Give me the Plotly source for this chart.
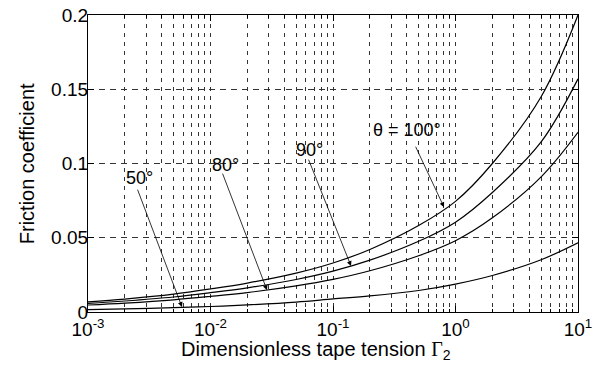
import plotly.graph_objects as go

# Dimensionless tape tension (x) sample points
gamma2 = [0.001, 0.002, 0.005, 0.01, 0.02, 0.05, 0.1, 0.2, 0.5, 1, 2, 5, 10]

# Friction coefficient for each wrap angle
mu_100 = [0.0068, 0.0087, 0.0120, 0.0155, 0.0195, 0.0262, 0.0330, 0.0421, 0.0582, 0.0745, 0.1000, 0.1450, 0.2000]
mu_90 = [0.0058, 0.0074, 0.0101, 0.0130, 0.0163, 0.0219, 0.0275, 0.0349, 0.0476, 0.0605, 0.0805, 0.1145, 0.1570]
mu_80 = [0.0047, 0.0060, 0.0082, 0.0105, 0.0131, 0.0176, 0.0220, 0.0278, 0.0379, 0.0480, 0.0634, 0.0910, 0.1210]
mu_50 = [0.0016, 0.0021, 0.0029, 0.0037, 0.0048, 0.0067, 0.0088, 0.0108, 0.0145, 0.0188, 0.0246, 0.0352, 0.0466]

series = [("θ = 100°", mu_100), ("90°", mu_90), ("80°", mu_80), ("50°", mu_50)]

x_tickvals = [0.001, 0.01, 0.1, 1, 10]
x_ticktext = ["10<sup>-3</sup>", "10<sup>-2</sup>", "10<sup>-1</sup>", "10<sup>0</sup>", "10<sup>1</sup>"]
x_minor = [m * d for d in [0.001, 0.01, 0.1, 1] for m in range(2, 10)]
y_tickvals = [0, 0.05, 0.1, 0.15, 0.2]
y_ticktext = ["0", "0.05", "0.1", "0.15", "0.2"]

x_title = "Dimensionless tape tension <span style=\"font-family:Liberation Serif\">Γ</span><sub>2</sub>"
y_title = "Friction coefficient"

# label text, label position (log10 x, y), arrow tail, arrow head
labels = [
    ("50°", (-2.58, 0.0905), (-2.60, 0.0834), (-2.233, 0.0034)),
    ("80°", (-1.88, 0.0990), (-1.906, 0.0942), (-1.539, 0.0148)),
    ("90°", (-1.19, 0.1090), (-1.204, 0.1036), (-0.853, 0.0310)),
    ("θ = 100°", (-0.40, 0.1224), (-0.331, 0.1123), (-0.094, 0.0706)),
]

fig = go.Figure()
for name, vals in series:
    fig.add_trace(go.Scatter(x=gamma2, y=vals, mode="lines", name=name,
                             line=dict(color="black", width=1.2, shape="spline", smoothing=1.0),
                             showlegend=False))

font = "Liberation Sans, Arial, Helvetica, sans-serif"
for text, (tx, ty), (ax, ay), (hx, hy) in labels:
    fig.add_annotation(x=hx, y=hy, ax=ax, ay=ay, xref="x", yref="y", axref="x", ayref="y",
                       text="", showarrow=True, arrowhead=2, arrowsize=1.2, arrowwidth=0.8,
                       arrowcolor="black", standoff=0, startstandoff=0)
    fig.add_annotation(x=tx, y=ty, xref="x", yref="y", text=text, showarrow=False,
                       font=dict(family=font, size=18, color="black"))

# axis titles
fig.add_annotation(x=0.465, y=-0.128, xref="paper", yref="paper", text=x_title, showarrow=False,
                   xanchor="center", yanchor="middle", font=dict(family=font, size=20, color="black"))
fig.add_annotation(x=-0.125, y=0.5, xref="paper", yref="paper", text=y_title, showarrow=False, textangle=-90,
                   xanchor="center", yanchor="middle", font=dict(family=font, size=20, color="black"))

grid_dash = "4px,5px"
fig.update_xaxes(type="log", range=[-3, 1], tickmode="array", tickvals=x_tickvals, ticktext=x_ticktext,
                 ticks="inside", ticklen=6, tickcolor="black", showline=True, linecolor="black", linewidth=1.2,
                 mirror="ticks", showgrid=True, gridcolor="#333", gridwidth=0.8, griddash=grid_dash,
                 minor=dict(tickmode="array", tickvals=x_minor, ticks="inside", ticklen=3, tickcolor="black",
                            showgrid=True, gridcolor="#333", gridwidth=0.8, griddash=grid_dash),
                 tickfont=dict(family=font, size=19, color="black"), automargin=False,
                 ticklabeloverflow="allow", zeroline=False)
fig.update_yaxes(range=[0, 0.2], tickmode="array", tickvals=y_tickvals, ticktext=y_ticktext,
                 ticks="inside", ticklen=6, tickcolor="black", showline=True, linecolor="black", linewidth=1.2,
                 mirror="ticks", showgrid=True, gridcolor="#333", gridwidth=0.8, griddash="6px,5px",
                 tickfont=dict(family=font, size=19, color="black"), automargin=False,
                 ticklabeloverflow="allow", ticklabelstandoff=-5, zeroline=False)
fig.update_layout(width=597, height=366, margin=dict(l=80, r=27, t=7, b=62),
                  plot_bgcolor="white", paper_bgcolor="white")
fig.write_html("out.html")
